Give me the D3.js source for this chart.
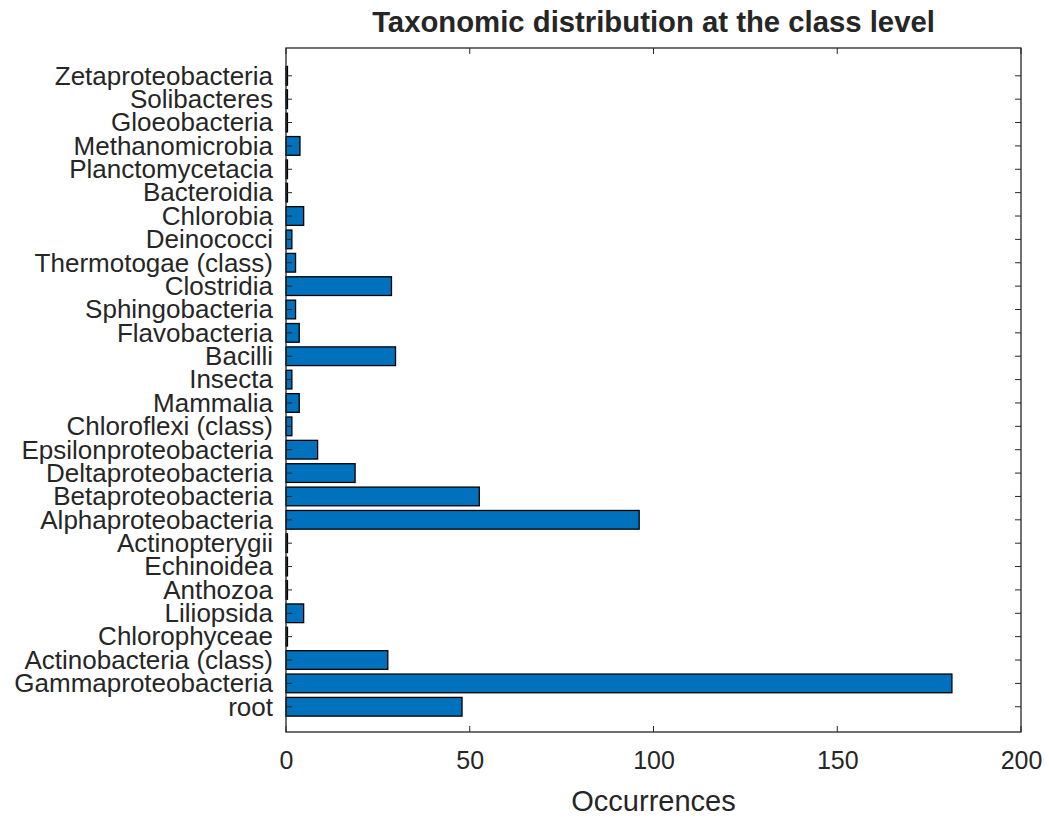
<!DOCTYPE html>
<html>
<head>
<meta charset="utf-8">
<script src="https://cdn.jsdelivr.net/npm/d3@7"></script>
<style>
  body { margin: 0; background: #fff; }
  svg { display: block; }
  text { font-family: "Liberation Sans", Arial, Helvetica, sans-serif; fill: #262626; }
</style>
</head>
<body>
<svg id="chart" width="1049" height="819"></svg>
<script>
const categories = [
  "root", "Gammaproteobacteria", "Actinobacteria (class)", "Chlorophyceae",
  "Liliopsida", "Anthozoa", "Echinoidea", "Actinopterygii",
  "Alphaproteobacteria", "Betaproteobacteria", "Deltaproteobacteria",
  "Epsilonproteobacteria", "Chloroflexi (class)", "Mammalia", "Insecta",
  "Bacilli", "Flavobacteria", "Sphingobacteria", "Clostridia",
  "Thermotogae (class)", "Deinococci", "Chlorobia", "Bacteroidia",
  "Planctomycetacia", "Methanomicrobia", "Gloeobacteria", "Solibacteres",
  "Zetaproteobacteria"
];
const occurrences = [
  47.9, 181.2, 27.7, 0.4,
  4.8, 0.4, 0.4, 0.4,
  96.1, 52.6, 18.8,
  8.6, 1.6, 3.6, 1.6,
  29.8, 3.6, 2.6, 28.7,
  2.6, 1.6, 4.8, 0.4,
  0.4, 3.8, 0.4, 0.4,
  0.4
];
const xTicks = [0, 50, 100, 150, 200];
const titleText = "Taxonomic distribution at the class level";
const xLabelText = "Occurrences";

const svg = d3.select("#chart");
const box = { left: 286, right: 1021, top: 48, bottom: 732 };

const x = d3.scaleLinear().domain([0, 200]).range([box.left, box.right]);
const y = d3.scaleLinear().domain([-1.08, 28.19]).range([box.bottom, box.top]);
const barH = (y(0) - y(0.8));

const data = categories.map((c, i) => ({ c, i, v: occurrences[i] }));

// bars
svg.append("g").selectAll("rect").data(data).join("rect")
  .attr("x", x(0))
  .attr("y", d => y(d.i) - barH / 2)
  .attr("width", d => x(d.v) - x(0))
  .attr("height", barH)
  .attr("fill", "#0072BD")
  .attr("stroke", "#000")
  .attr("stroke-width", 1.3);

const axisColor = "#262626";
const tickLen = 6;

const gBottom = svg.append("g").attr("transform", `translate(0,${box.bottom})`)
  .call(d3.axisBottom(x).tickValues(xTicks).tickSize(0).tickPadding(19).tickFormat(d3.format("d")));
gBottom.select(".domain").remove();
gBottom.selectAll("text").attr("font-size", 25).attr("fill", "#404040")
  .style("font-family", "'Liberation Sans', Arial, sans-serif");

const gLeft = svg.append("g").attr("transform", `translate(${box.left - 13},0)`)
  .call(d3.axisLeft(y).tickValues(d3.range(categories.length)).tickSize(0).tickPadding(0)
    .tickFormat(i => categories[i]));
gLeft.select(".domain").remove();
gLeft.selectAll("text").attr("font-size", 26).attr("fill", "#262626")
  .style("font-family", "'Liberation Sans', Arial, sans-serif");

// tick marks (inward, on all four sides)
const ticks = svg.append("g").attr("stroke", axisColor).attr("stroke-width", 1);
ticks.selectAll(".xb").data(xTicks).join("line")
  .attr("x1", d => x(d)).attr("x2", d => x(d))
  .attr("y1", box.bottom).attr("y2", box.bottom - tickLen);
ticks.selectAll(".xt").data(xTicks).join("line")
  .attr("x1", d => x(d)).attr("x2", d => x(d))
  .attr("y1", box.top).attr("y2", box.top + tickLen);
ticks.selectAll(".yl").data(d3.range(categories.length)).join("line")
  .attr("x1", box.left).attr("x2", box.left + tickLen)
  .attr("y1", d => y(d)).attr("y2", d => y(d));
ticks.selectAll(".yr").data(d3.range(categories.length)).join("line")
  .attr("x1", box.right).attr("x2", box.right - tickLen)
  .attr("y1", d => y(d)).attr("y2", d => y(d));

svg.append("rect")
  .attr("x", box.left).attr("y", box.top)
  .attr("width", box.right - box.left).attr("height", box.bottom - box.top)
  .attr("fill", "none").attr("stroke", axisColor).attr("stroke-width", 1.3);

// title
svg.append("text")
  .attr("x", (box.left + box.right) / 2).attr("y", 32)
  .attr("text-anchor", "middle")
  .attr("font-size", 29.3).attr("font-weight", "bold").attr("fill", "#000")
  .text(titleText);

// x label
svg.append("text")
  .attr("x", (box.left + box.right) / 2).attr("y", 811)
  .attr("text-anchor", "middle")
  .attr("font-size", 29).attr("fill", "#262626")
  .text(xLabelText);
</script>
</body>
</html>
